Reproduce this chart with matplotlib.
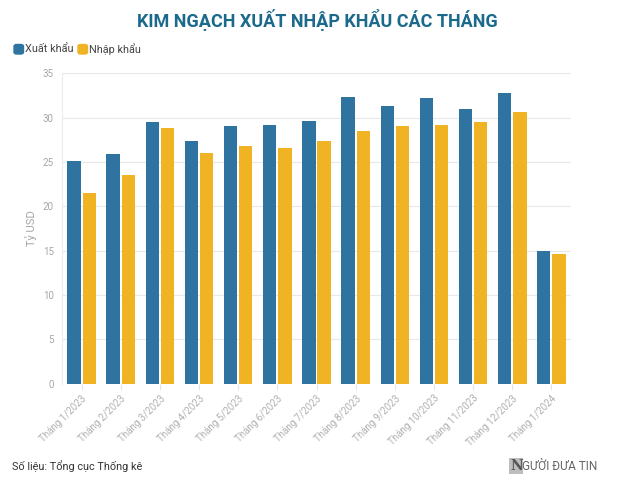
import matplotlib
matplotlib.use("Agg")
import matplotlib.pyplot as plt
import numpy as np
from matplotlib.patches import FancyBboxPatch

categories = ["Tháng 1/2023", "Tháng 2/2023", "Tháng 3/2023", "Tháng 4/2023",
              "Tháng 5/2023", "Tháng 6/2023", "Tháng 7/2023", "Tháng 8/2023",
              "Tháng 9/2023", "Tháng 10/2023", "Tháng 11/2023", "Tháng 12/2023",
              "Tháng 1/2024"]
xuat_khau = [25.1, 25.9, 29.5, 27.4, 29.0, 29.2, 29.6, 32.3, 31.3, 32.2, 31.0, 32.8, 15.0]
nhap_khau = [21.5, 23.5, 28.8, 26.0, 26.8, 26.6, 27.4, 28.5, 29.0, 29.2, 29.5, 30.6, 14.6]
y_ticks = [0, 5, 10, 15, 20, 25, 30, 35]

series_names = ["Xuất khẩu", "Nhập khẩu"]
colors = ["#2f74a0", "#f0b323"]

plt.rcParams['font.family'] = ['Roboto', 'DejaVu Sans']

fig = plt.figure(figsize=(6.34, 4.84), dpi=100)
ax = fig.add_axes([62/634, 1-383.5/484, (571-62)/634, (383.5-73.3)/484])

x = np.arange(len(categories))
w = 0.34
ax.bar(x - 0.195, xuat_khau, width=w, color=colors[0], zorder=3)
ax.bar(x + 0.195, nhap_khau, width=w, color=colors[1], zorder=3)

ax.set_xlim(-0.5, len(categories) - 0.5)
ax.set_ylim(0, 35)
ax.set_yticks(y_ticks)
ax.set_yticklabels([str(t) for t in y_ticks], fontsize=7, color="#a6a6a6")
ax.set_xticks(x)
ax.set_xticklabels(categories, rotation=45, ha="right", rotation_mode="anchor",
                   fontsize=7, color="#b0b0b0")
ax.tick_params(axis="y", length=0, pad=6)
ax.tick_params(axis="x", length=4, color="#e6e6e6", pad=3)
ax.grid(axis="y", color="#e8e8e8", linewidth=0.8, zorder=0)
for s in ["top", "right", "bottom"]:
    ax.spines[s].set_visible(False)
ax.spines["left"].set_color("#ececec")
ax.spines["left"].set_linewidth(0.8)
ax.set_ylabel("Tỷ USD", fontsize=8, color="#a6a6a6", labelpad=4)

fig.text(317/634, 1-20/484, "KIM NGẠCH XUẤT NHẬP KHẨU CÁC THÁNG", ha="center", va="center",
         fontsize=13, fontweight="bold", color="#1b6a8c")

# legend
lx = 14
for name, c in zip(series_names, colors):
    fig.patches.append(FancyBboxPatch((lx/634, 1-54/484), 9.5/634, 9.5/484,
                                      boxstyle="round,pad=0,rounding_size=0.004",
                                      transform=fig.transFigure, color=c, figure=fig))
    t = fig.text((lx + 11)/634, 1-49.5/484, name, ha="left", va="center",
                 fontsize=7.8, color="#444444")
    lx += 64

fig.text(12/634, 1-466/484, "Số liệu: Tổng cục Thống kê", ha="left", va="center",
         fontsize=7.8, color="#333333")
fig.text(510/634, 1-466/484, "N", ha="left", va="center", fontsize=10, fontweight="bold",
         color="#555555", family=["DejaVu Serif"],
         bbox=dict(boxstyle="square,pad=0.05", fc="#bdbdbd", ec="none"))
fig.text(522/634, 1-466/484, "GƯỜI ĐƯA TIN", ha="left", va="center", fontsize=8.5,
         color="#666666", fontstretch="condensed")

fig.savefig("out.png", dpi=100)
